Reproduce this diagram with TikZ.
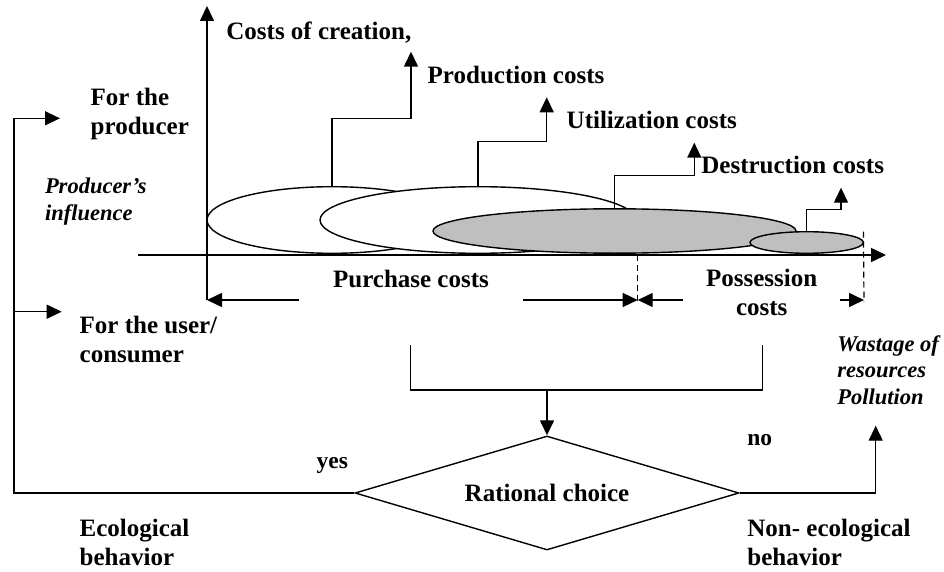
\documentclass[tikz,border=0pt]{standalone}
\usepackage{fontspec}
\setmainfont{Liberation Serif}
\usetikzlibrary{arrows.meta,shapes.geometric}

\begin{document}
\begin{tikzpicture}[x=1pt,y=-1pt,
  line width=1.4pt,
  tip/.style={-{Triangle[length=15pt,width=14pt]}},
  lbl/.style={font=\fontsize{25}{29}\selectfont\bfseries, inner sep=0pt, align=left, anchor=base west},
  ilbl/.style={font=\fontsize{22.5}{26.5}\selectfont\bfseries\itshape, inner sep=0pt, align=left, anchor=base west},
  small/.style={font=\fontsize{23.5}{27}\selectfont\bfseries, inner sep=0pt, anchor=base west},
  blob/.style={ellipse, draw, inner sep=0pt, outer sep=0pt},
  bound/.style={line width=1.2pt, dash pattern=on 6pt off 4pt},
]
\useasboundingbox (0,0) rectangle (944,572);

% cost phases as overlapping ellipses
\node[blob, fill=white, minimum width=250pt, minimum height=66.6pt] (e1) at (332,220) {};
\node[blob, fill=white, minimum width=316pt, minimum height=66.6pt] (e2) at (478,220) {};
\node[blob, fill=gray!50, minimum width=363pt, minimum height=44.4pt] (e3) at (614.5,231) {};
\node[blob, fill=gray!50, minimum width=113.4pt, minimum height=21.6pt] (e4) at (806.7,242.5) {};

% axes
\coordinate (o) at (207,300);
\coordinate (ytop) at (207,6);
\coordinate (xl) at (138.3,255);
\coordinate (xr) at (886,255);
\draw[tip] (o) -- (ytop);
\draw[tip] (xl) -- (xr);

% labels of the cost categories (multi-line nodes sit on their last baseline)
\node[lbl] (creat) at (225.7,39.3) {Costs of creation,};
\node[lbl] (prod) at (427,83.3) {Production costs};
\node[lbl] (util) at (566,128.3) {Utilization costs};
\node[lbl] (destr) at (700.7,173.3) {Destruction costs};

\coordinate (tp) at (411,51.7);
\coordinate (tu) at (546.7,97.3);
\coordinate (td) at (694.3,142.7);
\coordinate (tc) at (841,187.7);
\draw[tip] (e1.north) -- ++(0,-68.4) -| (tp);
\draw[tip] (e2.north) -- ++(0,-45) -| (tu);
\draw[tip] (e3.north) -- ++(0,-33.3) -| (td);
\draw[tip] (e4.north) -- ++(0,-22.4) -| (tc);

% producer / user side
\node[lbl] (forprod) at (90,135) {For the\\producer};
\node[ilbl] (infl) at (44.3,220) {Producer’s\\influence};
\node[lbl] (foruser) at (79,362.7) {For the user/\\consumer};

% purchase and possession spans
\node[lbl, anchor=base] (purch) at (411,287) {Purchase costs};
\node[lbl, anchor=base, align=center] (poss) at (761.7,315) {Possession\\costs};

\coordinate (pl) at (299,300);
\coordinate (pr) at (523.3,300);
\coordinate (mid) at (637.7,300);
\coordinate (ql) at (682.7,300);
\coordinate (qr) at (840,300);
\coordinate (endp) at (864,300);
\draw[tip] (pl) -- (o);
\draw[tip] (pr) -- (mid);
\draw[tip] (ql) -- (mid);
\draw[tip] (qr) -- (endp);
\draw[bound] (637.7,255) -- (637.7,302);
\draw[bound] (e4.east) ++(0,-10.8) -- (864,302);

% decision
\node[diamond, draw, aspect=3.37, minimum width=384pt, minimum height=114pt, inner sep=0pt,
      font=\fontsize{25}{29}\selectfont\bfseries] (dia) at (547,493) {Rational choice};

\coordinate (ba) at (410.7,345);
\coordinate (bb) at (762.3,345);
\coordinate (join) at (547,390);
\draw (ba) |- (join) -| (bb);
\draw[tip] (join) -- (dia.north);

\coordinate (fp) at (60,118.3);
\coordinate (fu) at (61.7,311.7);
\coordinate (branch) at (14,311.7);
\draw[tip] (dia.west) -| (14,118.3) -- (fp);
\draw[tip] (branch) -- (fu);

\coordinate (wp) at (875.7,425.7);
\draw[tip] (dia.east) -| (wp);

\node[small] (yes) at (316,468.3) {yes};
\node[small] (no) at (746.7,445.7) {no};
\node[ilbl] (waste) at (836.7,404) {Wastage of\\resources\\Pollution};
\node[lbl] (eco) at (79,565) {Ecological\\behavior};
\node[lbl] (neco) at (746.7,565) {Non- ecological\\behavior};
\end{tikzpicture}
\end{document}
